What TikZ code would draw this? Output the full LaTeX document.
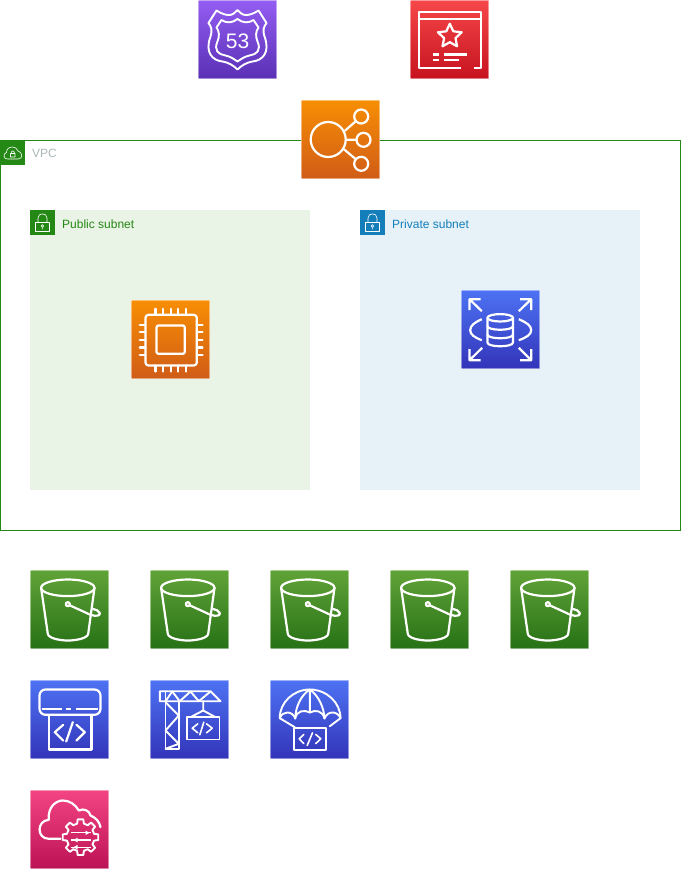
\documentclass[tikz,border=0pt]{standalone}
\usepackage{fontspec}
\setmainfont{Liberation Sans}
\definecolor{vpcgreen}{HTML}{248814}
\definecolor{subnetblue}{HTML}{147EBA}
\definecolor{vpcgray}{HTML}{AAB7B8}
\definecolor{publicfill}{HTML}{E9F3E6}
\definecolor{privatefill}{HTML}{E6F2F8}
\definecolor{orangetop}{HTML}{F78E04}
\definecolor{orangebot}{HTML}{D05C17}
\definecolor{redtop}{HTML}{F54749}
\definecolor{redbot}{HTML}{C7131F}
\definecolor{purpletop}{HTML}{945DF2}
\definecolor{purplebot}{HTML}{5A30B5}
\definecolor{bluetop}{HTML}{4D72F3}
\definecolor{bluebot}{HTML}{3334B9}
\definecolor{greentop}{HTML}{60A337}
\definecolor{greenbot}{HTML}{277116}
\definecolor{pinktop}{HTML}{F34482}
\definecolor{pinkbot}{HTML}{BC1356}
\tikzset{
	icon/.style 2 args={rectangle,minimum size=78pt,inner sep=0pt,outer sep=0pt,draw=white,draw opacity=.45,line width=1pt,top color=#1,bottom color=#2},
	tag/.style={rectangle,minimum size=25pt,inner sep=0pt,outer sep=0pt,anchor=north west,fill=#1},
	grouplabel/.style={anchor=west,inner sep=0pt,font=\fontsize{12}{14}\selectfont,text=#1},
	glyph/.style={draw=white,line width=2.2pt,line join=round,line cap=round},
	small glyph/.style={draw=white,line width=1.9pt,line join=round,line cap=round},
	thin glyph/.style={draw=white,line width=.6pt,line join=round},
	shieldglyph/.pic={
		\draw[small glyph] (39,9.5) .. controls (37,12) and (34,14.5) .. (31,14.5) .. controls (28,14.5) and (24,14) .. (18,10) -- (10,22.5) .. controls (13,27) and (14,29) .. (12,36) .. controls (6,52) and (14,60) .. (24,61) .. controls (30,62) and (35,65) .. (39,69) .. controls (43,65) and (48,62) .. (54,61) .. controls (64,60) and (72,52) .. (66,36) .. controls (64,29) and (65,27) .. (68,22.5) -- (60,10) .. controls (54,14) and (50,14.5) .. (47,14.5) .. controls (44,14.5) and (41,12) .. (39,9.5) -- cycle;
		\draw[small glyph] (39,18.5) .. controls (34,22.5) and (28,23) .. (23,19.5) -- (18,27) .. controls (21,31) and (21,36) .. (19,41) .. controls (15,50) and (20,54) .. (27,55) .. controls (32,56) and (36,59) .. (39,61) .. controls (42,59) and (46,56) .. (51,55) .. controls (58,54) and (63,50) .. (59,41) .. controls (57,36) and (57,31) .. (60,27) -- (55,19.5) .. controls (50,23) and (44,22.5) .. (39,18.5) -- cycle;
		\node[text=white,inner sep=0pt,font=\fontsize{21}{21}\selectfont] (shieldtext) at (39,40.5) {53};
	},
	wafglyph/.pic={
		\draw[glyph,line cap=butt] (50.7,67.7) -- (8.3,67.7) -- (8.3,11.7) -- (70.7,11.7) -- (70.7,67.7) -- (63.3,67.7);
		\draw[glyph] (8.3,18.3) -- (70.7,18.3);
		\draw[glyph] (39.3,23.2) -- (42.8,30.8) -- (51.2,31.8) -- (45,37.6) -- (46.6,45.8) -- (39.3,41.7) -- (32,45.8) -- (33.6,37.6) -- (27.4,31.8) -- (35.8,30.8) -- cycle;
		\draw[glyph,line cap=butt] (22.3,54) -- (28.3,54) (33.3,54) -- (56.7,54) (22.3,59.3) -- (28.3,59.3) (33.3,59.3) -- (48.3,59.3);
	},
	elbglyph/.pic={
		\draw[glyph] (26.7,39) circle[radius=17.5] (59.7,16) circle[radius=7] (62,39.3) circle[radius=7] (59.7,63.3) circle[radius=7];
		\draw[glyph] (43.7,30) -- (54.3,20.7) (44.7,39.3) -- (55,39.3) (42.7,49) -- (54.3,58.7);
	},
	chipglyph/.pic={
		\draw[glyph,rounded corners=3pt] (14,14.3) rectangle (65.3,65);
		\draw[glyph,rounded corners=2pt] (25,25) rectangle (53.3,53.3);
		\draw[glyph] (24,8.3) -- (24,14.3) (31.7,8.3) -- (31.7,14.3) (39.3,8.3) -- (39.3,14.3) (46.7,8.3) -- (46.7,14.3) (54.3,8.3) -- (54.3,14.3);
		\draw[glyph] (24,65) -- (24,71) (31.7,65) -- (31.7,71) (39.3,65) -- (39.3,71) (46.7,65) -- (46.7,71) (54.3,65) -- (54.3,71);
		\draw[glyph] (8.3,24.3) -- (14,24.3) (8.3,31.7) -- (14,31.7) (8.3,39.3) -- (14,39.3) (8.3,47) -- (14,47) (8.3,54.3) -- (14,54.3);
		\draw[glyph] (65.3,24.3) -- (71,24.3) (65.3,31.7) -- (71,31.7) (65.3,39.3) -- (71,39.3) (65.3,47) -- (71,47) (65.3,54.3) -- (71,54.3);
	},
	rdsglyph/.pic={
		\draw[glyph,line cap=butt] (19,8.7) -- (8,8.7) -- (8,19.7) (8,8.7) -- (20.3,20.7);
		\draw[glyph,line cap=butt] (58.7,8.7) -- (69.7,8.7) -- (69.7,19.7) (69.7,8.7) -- (57.3,20.7);
		\draw[glyph,line cap=butt] (8,58.7) -- (8,69.7) -- (19,69.7) (8,69.7) -- (20.7,57.3);
		\draw[glyph,line cap=butt] (69.7,58.7) -- (69.7,69.7) -- (58.7,69.7) (69.7,69.7) -- (57.3,57.3);
		\draw[glyph,line cap=butt] (20.3,28.7) .. controls (13,32) and (8.7,35) .. (8.7,39.7) .. controls (8.7,44) and (13,47) .. (20.3,49.7);
		\draw[glyph,line cap=butt] (57.3,28.7) .. controls (65,32) and (69.7,35) .. (69.7,39.7) .. controls (69.7,44) and (65,47) .. (57.3,49.7);
		\draw[glyph] (38.7,27.3) ellipse[x radius=12.8,y radius=3.7];
		\draw[glyph] (25.9,27.3) -- (25.9,52) .. controls (25.9,57) and (51.5,57) .. (51.5,52) -- (51.5,27.3);
		\draw[glyph] (25.9,35.5) .. controls (25.9,40.5) and (51.5,40.5) .. (51.5,35.5);
		\draw[glyph] (25.9,44) .. controls (25.9,49) and (51.5,49) .. (51.5,44);
	},
	bucketglyph/.pic={
		\draw[glyph] (37.3,17.3) ellipse[x radius=26.7,y radius=8.3];
		\draw[glyph] (10.6,17.3) -- (17.3,63.3) .. controls (18,68) and (30,70) .. (37.3,70) .. controls (45,70) and (57,68) .. (57.7,63.3) -- (64,17.3);
		\draw[glyph] (37.3,33.7) circle[radius=2];
		\draw[glyph] (39,34.7) -- (60,44.3) .. controls (66,46.3) and (70,45) .. (69.3,42.5) .. controls (68.5,40) and (65,39) .. (62.5,38.5);
	},
	apiglyph/.pic={
		\draw[glyph,rounded corners=6pt] (9,9) rectangle (70,34.3);
		\draw[glyph,line cap=butt] (11.7,28.3) -- (31.7,28.3) (35.7,28.3) -- (40.7,28.3) (45,28.3) -- (67.3,28.3);
		\draw[glyph,line cap=butt] (18.3,34.3) -- (18.3,69) -- (61,69) -- (61,34.3);
		\draw[glyph] (32.7,44.3) -- (24.3,51.7) -- (32.7,60) (46,44.3) -- (54.3,51.7) -- (46,60) (42.3,41.7) -- (35.7,61);
	},
	craneglyph/.pic={
		\draw[small glyph] (9.3,10.7) -- (60,10.7) -- (70,20.7) -- (9.3,20.7) -- cycle;
		\draw[small glyph] (15,10.7) -- (15,68.3) -- (28.3,68.3) -- (28.3,20.7);
		\draw[small glyph] (15,20.7) -- (21.7,11) -- (29.3,20.7) -- (40,11) -- (48.3,20.7) -- (60,11);
		\draw[small glyph] (15,21.7) -- (28.3,35) -- (15,50) -- (28.3,63.3) -- (15,68.3);
		\draw[small glyph] (52.7,20.7) -- (52.7,30) (40,36.7) -- (52.7,30) -- (65,36.7);
		\draw[small glyph] (36.7,36.7) rectangle (69,59);
		\draw[small glyph,line width=1.6pt] (47.3,43.3) -- (41.7,47.7) -- (47.3,52.3) (56,43.3) -- (61.7,47.7) -- (56,52.3) (53.3,41.7) -- (49.3,54.3);
	},
	chuteglyph/.pic={
		\draw[small glyph] (9.3,37.7) .. controls (9,22) and (23,9) .. (39.3,9) .. controls (56,9) and (70,22) .. (70,37.7);
		\draw[small glyph] (9.3,37.7) .. controls (12,30) and (22,30) .. (24.7,38) .. controls (26,30) and (34,29) .. (39.3,32) .. controls (45,29) and (52,30) .. (54,38) .. controls (57,30) and (67,30) .. (70,37.7);
		\draw[small glyph] (39.3,9) -- (39.3,32) (39.3,9) .. controls (30,15) and (25,27) .. (24.7,38) (39.3,9) .. controls (48,15) and (53.5,27) .. (54,38);
		\draw[small glyph] (9.3,37.7) -- (24.3,46.7) (70,37.7) -- (59.3,45.7);
		\draw[small glyph] (23.3,47.7) rectangle (55.3,69.3);
		\draw[small glyph,line width=1.6pt] (33.3,54) -- (28.7,58.3) -- (33.3,63) (45.3,54) -- (50.3,58.3) -- (45.3,63) (42,52.3) -- (36.7,65);
	},
	cloudgearglyph/.pic={
		\draw[glyph] (30,48.3) -- (18.3,48.3) .. controls (6,48.3) and (6,30) .. (18.3,29.3) .. controls (17,16) and (26,10) .. (32.3,10) .. controls (39,10) and (45,14) .. (48.3,20) .. controls (53,17.5) and (59,20) .. (60,25) .. controls (65,27) and (69,31) .. (70,36.7);
		\begin{scope}[shift={(50,46.7)}]
			\foreach \a in {0,45,...,315}
				\draw[small glyph] ({\a-14}:14) -- ({\a-9}:18) -- ({\a+9}:18) -- ({\a+14}:14) -- ({\a+31}:14);
		\end{scope}
		\draw[white,line width=1.3pt] (40,42.3) -- (60,42.3) (40,49.5) -- (60,49.5) (40,56.7) -- (60,56.7);
		\fill[white] (59,42.3) -- (55,40) -- (55,44.6) -- cycle (43,49.5) -- (47,47.2) -- (47,51.8) -- cycle (43,56.7) -- (47,54.4) -- (47,59) -- cycle;
	},
	lockglyph/.pic={
		\draw[thin glyph] (5.7,12.3) rectangle (19,21.7);
		\draw[thin glyph] (8,12.3) -- (8,8) .. controls (8,2.5) and (17,2.5) .. (17,8) -- (17,12.3);
		\draw[thin glyph] (12.3,16) circle[radius=1.3] (12.3,17.3) -- (12.3,19.3);
	},
	cloudlockglyph/.pic={
		\draw[thin glyph] (9,19) -- (7.5,19) .. controls (3,19) and (3,13.5) .. (6.5,12.5) .. controls (6.5,9) and (9,7) .. (12.5,7) .. controls (15,7) and (17,8.5) .. (18,11) .. controls (22,11.5) and (24,19) .. (18,19) -- cycle;
		\draw[thin glyph] (10.5,13.5) rectangle (15,17) (11.3,13.5) -- (11.3,12) .. controls (11.3,10.5) and (14.2,10.5) .. (14.2,12) -- (14.2,13.5);
	},
}
\begin{document}
\begin{tikzpicture}[x=1pt,y=-1pt]
	\useasboundingbox (0,0) rectangle (681,869);
	\node[draw=vpcgreen,line width=1pt,minimum width=680pt,minimum height=390pt,inner sep=0pt,outer sep=0pt] (vpc) at (340.5,335.5) {};
	\node[tag=vpcgreen] (vpctag) at (0,140) {};
	\pic at (vpctag.north west) {cloudlockglyph};
	\node[grouplabel=vpcgray] (vpclabel) at (32,153) {VPC};
	\node[fill=publicfill,minimum size=280pt,inner sep=0pt,outer sep=0pt] (public) at (170,350) {};
	\node[tag=vpcgreen] (publictag) at (public.north west) {};
	\pic at (publictag.north west) {lockglyph};
	\node[grouplabel=vpcgreen] (publiclabel) at (62,224) {Public subnet};
	\node[fill=privatefill,minimum size=280pt,inner sep=0pt,outer sep=0pt] (private) at (500,350) {};
	\node[tag=subnetblue] (privatetag) at (private.north west) {};
	\pic at (privatetag.north west) {lockglyph};
	\node[grouplabel=subnetblue] (privatelabel) at (392,224) {Private subnet};

	\node[icon={purpletop}{purplebot}] (route) at (237.5,39.5) {};
	\pic at (route.north west) {shieldglyph};
	\node[icon={redtop}{redbot}] (waf) at (449.5,39.5) {};
	\pic at (waf.north west) {wafglyph};
	\node[icon={orangetop}{orangebot}] (elb) at (340.5,139.5) {};
	\pic at (elb.north west) {elbglyph};
	\node[icon={orangetop}{orangebot}] (ectwo) at (170.5,339.5) {};
	\pic at (ectwo.north west) {chipglyph};
	\node[icon={bluetop}{bluebot}] (rds) at (500.5,329.5) {};
	\pic at (rds.north west) {rdsglyph};

	\node[icon={greentop}{greenbot}] (bucketa) at (69.5,609.5) {};
	\pic at (bucketa.north west) {bucketglyph};
	\node[icon={greentop}{greenbot}] (bucketb) at (189.5,609.5) {};
	\pic at (bucketb.north west) {bucketglyph};
	\node[icon={greentop}{greenbot}] (bucketc) at (309.5,609.5) {};
	\pic at (bucketc.north west) {bucketglyph};
	\node[icon={greentop}{greenbot}] (bucketd) at (429.5,609.5) {};
	\pic at (bucketd.north west) {bucketglyph};
	\node[icon={greentop}{greenbot}] (buckete) at (549.5,609.5) {};
	\pic at (buckete.north west) {bucketglyph};

	\node[icon={bluetop}{bluebot}] (commit) at (69.5,719.5) {};
	\pic at (commit.north west) {apiglyph};
	\node[icon={bluetop}{bluebot}] (build) at (189.5,719.5) {};
	\pic at (build.north west) {craneglyph};
	\node[icon={bluetop}{bluebot}] (deploy) at (309.5,719.5) {};
	\pic at (deploy.north west) {chuteglyph};

	\node[icon={pinktop}{pinkbot}] (formation) at (69.5,829.5) {};
	\pic at (formation.north west) {cloudgearglyph};
\end{tikzpicture}
\end{document}
